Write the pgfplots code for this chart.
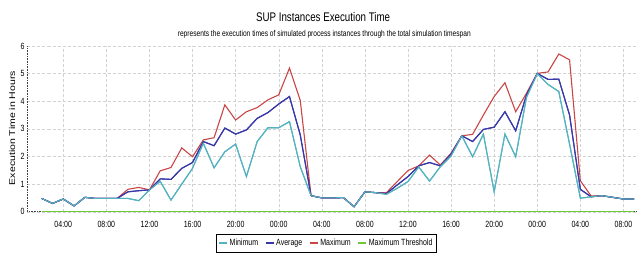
\documentclass[border=0pt]{standalone}
\usepackage{fontspec}
\setmainfont{Liberation Sans}[FakeStretch=0.78]
\newfontfamily\plainfont{Liberation Sans}
\usepackage{pgfplots}
\pgfplotsset{compat=1.18}
\definecolor{cmin}{RGB}{85,178,192}
\definecolor{cavg}{RGB}{55,55,170}
\definecolor{cmax}{RGB}{200,70,70}
\definecolor{cthr}{RGB}{110,200,60}
\pgfplotstableread{
h min avg max thr
2 0.48 0.48 0.48 0
3 0.30 0.30 0.30 0
4 0.46 0.46 0.46 0
5 0.21 0.21 0.21 0
6 0.52 0.52 0.52 0
7 0.48 0.48 0.48 0
8 0.48 0.48 0.48 0
9 0.48 0.48 0.48 0
10 0.48 0.72 0.81 0
11 0.40 0.76 0.88 0
12 0.79 0.79 0.79 0
13 1.10 1.19 1.48 0
14 0.42 1.17 1.60 0
15 1.00 1.57 2.31 0
16 1.57 1.78 1.99 0
17 2.48 2.54 2.60 0
18 1.59 2.39 2.68 0
19 2.17 3.03 3.87 0
20 2.45 2.81 3.32 0
21 1.27 2.96 3.62 0
22 2.54 3.38 3.77 0
23 3.04 3.59 4.05 0
24 3.04 3.90 4.23 0
25 3.26 4.17 5.20 0
26 1.63 2.78 4.03 0
27 0.58 0.58 0.58 0
28 0.50 0.50 0.50 0
29 0.50 0.50 0.50 0
30 0.51 0.51 0.51 0
31 0.18 0.18 0.18 0
32 0.72 0.72 0.72 0
33 0.69 0.69 0.69 0
34 0.63 0.66 0.69 0
35 0.85 0.97 1.09 0
36 1.09 1.27 1.49 0
37 1.62 1.66 1.66 0
38 1.11 1.78 2.05 0
39 1.63 1.66 1.69 0
40 2.02 2.09 2.12 0
41 2.75 2.75 2.75 0
42 1.99 2.54 2.80 0
43 2.81 2.98 3.50 0
44 0.72 3.06 4.17 0
45 2.81 3.62 4.67 0
46 1.99 2.93 3.62 0
47 4.14 4.23 4.29 0
48 5.00 5.01 5.01 0
49 4.61 4.79 5.06 0
50 4.35 4.80 5.71 0
51 2.45 3.50 5.50 0
52 0.49 0.81 1.12 0
53 0.54 0.54 0.57 0
54 0.58 0.58 0.58 0
55 0.52 0.52 0.52 0
56 0.46 0.46 0.46 0
57 0.46 0.46 0.46 0
}\datatable
\begin{document}
\begin{tikzpicture}[x=1pt,y=1pt]
\path[use as bounding box] (0,0) rectangle (637,255);
\begin{axis}[
  at={(27.5pt,43.3pt)}, anchor=south west,
  scale only axis, width=609.5pt, height=165.7pt,
  xmin=0.68, xmax=57.26, ymin=0, ymax=6,
  clip=false,
  axis x line*=bottom, axis y line*=left,
  axis line style={draw=black!75, densely dotted, line width=0.6pt, -},
  grid=major,
  grid style={densely dashed, gray!35, line width=0.4pt},
  xtick={4,8,...,56},
  xticklabels={04:00,08:00,12:00,16:00,20:00,00:00,04:00,08:00,12:00,16:00,20:00,00:00,04:00,08:00},
  ytick={0,1,...,6},
  major tick length=0pt,
  /pgf/number format/assume math mode=true,
  tick label style={font=\fontsize{9}{10}\selectfont},
  xticklabel style={anchor=center},
  xticklabel shift=12.3pt,
  yticklabel style={anchor=center},
  yticklabel shift=5pt,
  ylabel={\plainfont\scalebox{1}[0.8]{\fontsize{10.5}{12}\selectfont Execution Time in Hours}},
  ylabel style={at={(axis description cs:-0.0254,0.505)}, anchor=center},
  legend columns=4,
  legend style={at={(axis description cs:0.4906,-0.189)}, anchor=center,
    draw=black, line width=0.6pt,
    font=\fontsize{9}{10}\selectfont,
    inner xsep=2pt, inner ysep=3pt,
    /tikz/every even column/.append style={column sep=5pt}},
  legend image post style={line width=1.1pt},
  legend image code/.code={\draw[#1] (0pt,0pt) -- (8pt,0pt);},
]
\addplot[cmin, line width=1.1pt] table[x=h, y=min] {\datatable};
\addlegendentry{Minimum}
\addplot[cavg, line width=1.1pt] table[x=h, y=avg] {\datatable};
\addlegendentry{Average}
\addplot[cmax, line width=1.1pt] table[x=h, y=max] {\datatable};
\addlegendentry{Maximum}
\addplot[cthr, line width=1.1pt] table[x=h, y=thr] {\datatable};
\addlegendentry{Maximum Threshold}
\addplot[cavg, line width=1.1pt, forget plot] table[x=h, y=avg] {\datatable};
\addplot[cmin, line width=1.1pt, forget plot] table[x=h, y=min] {\datatable};
\node[font=\fontsize{12.5}{14}\selectfont] at (axis description cs:0.485,1.175) {SUP Instances Execution Time};
\node[font=\fontsize{8.5}{10}\selectfont] at (axis description cs:0.487,1.069) {represents the execution times of simulated process instances through the total simulation timespan};
\end{axis}
\end{tikzpicture}
\end{document}
